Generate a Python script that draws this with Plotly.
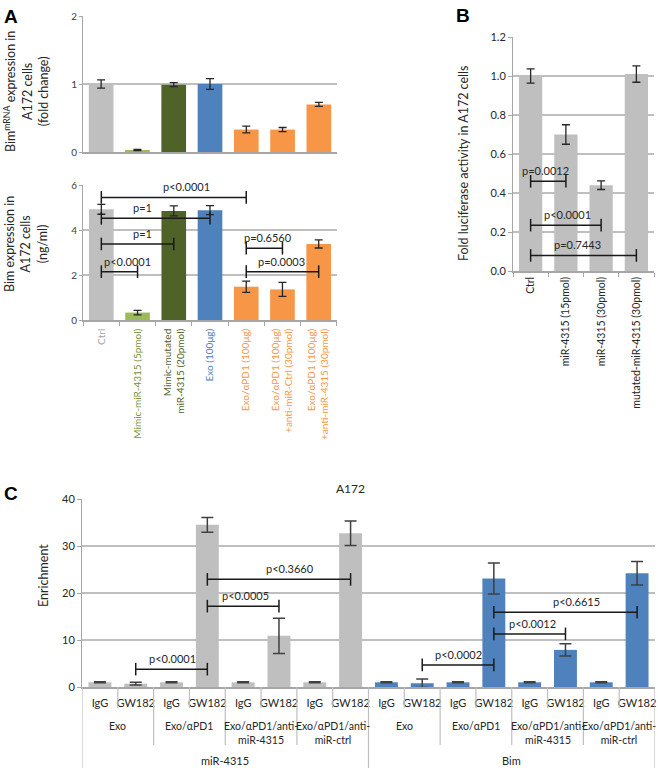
import plotly.graph_objects as go

W, H = 658, 768
FONT = "Lato"

# ---------------- Data ----------------
catsA = ["Ctrl", "Mimic-miR-4315 (5pmol)", "Mimic-mutated miR-4315 (20pmol)", "Exo (100μg)",
         "Exo/αPD1 (100μg)", "Exo/αPD1 (100μg) +anti-miR-Ctrl (30pmol)",
         "Exo/αPD1 (100μg) +anti-miR-4315 (30pmol)"]
tickA = ["Ctrl", "Mimic-miR-4315 (5pmol)", "Mimic-mutated<br>miR-4315 (20pmol)", "Exo (100μg)",
         "Exo/αPD1 (100μg)", "Exo/αPD1 (100μg)<br>+anti-miR-Ctrl (30pmol)",
         "Exo/αPD1 (100μg)<br>+anti-miR-4315 (30pmol)"]
colA = ["#BFBFBF", "#9BBB59", "#4F6228", "#4F81BD", "#F79646", "#F79646", "#F79646"]
txtcolA = ["#A6A6A6", "#77933C", "#4F6228", "#4F81BD", "#F79646", "#F79646", "#F79646"]

mrna = [1.00, 0.03, 0.99, 1.00, 0.33, 0.33, 0.70]
mrna_err = [0.06, 0.01, 0.03, 0.08, 0.05, 0.03, 0.03]

bim = [4.92, 0.33, 4.85, 4.88, 1.48, 1.36, 3.38]
bim_err = [0.22, 0.10, 0.22, 0.20, 0.25, 0.31, 0.18]

# brackets: (i, j, y, label, label_x)
bracketsA = [(0, 4, 5.45, "p<0.0001", 2.34), (0, 3, 4.52, "p=1", 1.15), (0, 2, 3.38, "p=1", 1.14),
             (0, 1, 2.15, "p<0.0001", 0.73), (4, 5, 3.19, "p=0.6560", 4.6), (4, 6, 2.15, "p=0.0003", 4.97)]

catsB = ["Ctrl", "miR-4315 (15pmol)", "miR-4315 (30pmol)", "mutated-miR-4315 (30pmol)"]
luc = [1.00, 0.70, 0.44, 1.01]
luc_err = [0.037, 0.05, 0.022, 0.042]
bracketsB = [(0, 1, 0.46, "p=0.0012", 0.42), (0, 2, 0.235, "p<0.0001", 1.06), (0, 3, 0.08, "p=0.7443", 1.34)]

ticksC = ["IgG", "GW182"] * 8
groupsC = ["Exo", "Exo/αPD1", "Exo/αPD1/anti-<br>miR-4315", "Exo/αPD1/anti-<br>miR-ctrl"] * 2
targetsC = ["miR-4315", "Bim"]
enrich = [1.0, 0.7, 1.0, 34.5, 1.0, 10.9, 1.0, 32.7,
          1.0, 0.8, 1.0, 23.1, 1.0, 7.9, 1.0, 24.2]
enrich_err = [0.1, 0.3, 0.1, 1.55, 0.1, 3.75, 0.1, 2.6,
              0.1, 0.9, 0.1, 3.3, 0.1, 1.3, 0.1, 2.5]
colC = ["#BFBFBF"] * 8 + ["#4F81BD"] * 8
bracketsC = [(1, 3, 3.8, "p<0.0001", 2.03), (3, 5, 17.2, "p<0.0005", 4.06), (3, 7, 22.9, "p<0.3660", 5.32),
             (9, 11, 4.7, "p<0.0002", 10.0), (11, 13, 11.3, "p<0.0012", 12.07), (11, 15, 15.9, "p<0.6615", 13.3)]


def px(x):
    return x / W


def py(y):
    return 1 - y / H


fig = go.Figure()
ERR = dict(type="data", color="#262626", thickness=1.3, width=4)
GRID = "#BFBFBF"
AXC = "#A6A6A6"
annotations = []
shapes = []


def add_brackets(brs, xa, ya, xvals):
    for (i, j, y, lab, lx) in brs:
        fig.add_trace(go.Scatter(x=[xvals[i], xvals[j]], y=[y, y], mode="lines+markers", xaxis=xa, yaxis=ya,
                                 line=dict(color="#1a1a1a", width=1.5),
                                 marker=dict(symbol="line-ns", size=9, line=dict(width=1.5, color="#1a1a1a")),
                                 showlegend=False, hoverinfo="skip"))
        annotations.append(dict(x=lx, y=y, xref=xa, yref=ya, text=lab, showarrow=False, xanchor="center",
                                yanchor="bottom", yshift=2, font=dict(size=11, color="#262626", family=FONT)))


# Panel A top
fig.add_trace(go.Bar(x=catsA, y=mrna, marker=dict(color=colA, line=dict(width=0)), width=0.68,
                     error_y=dict(array=mrna_err, **ERR), xaxis="x", yaxis="y", showlegend=False))
# Panel A bottom
fig.add_trace(go.Bar(x=catsA, y=bim, marker=dict(color=colA, line=dict(width=0)), width=0.68,
                     error_y=dict(array=bim_err, **ERR), xaxis="x2", yaxis="y2", showlegend=False))
add_brackets(bracketsA, "x2", "y2", catsA)
# Panel B
fig.add_trace(go.Bar(x=catsB, y=luc, marker=dict(color="#BFBFBF", line=dict(width=0)), width=0.66,
                     error_y=dict(array=luc_err, **ERR), xaxis="x3", yaxis="y3", showlegend=False))
add_brackets(bracketsB, "x3", "y3", catsB)
# Panel C
xC = list(range(16))
fig.add_trace(go.Bar(x=xC, y=enrich, marker=dict(color=colC, line=dict(width=0)), width=0.64,
                     error_y=dict(array=enrich_err, type="data", color="#404040", thickness=1.5, width=6),
                     xaxis="x4", yaxis="y4", showlegend=False))
add_brackets(bracketsC, "x4", "y4", xC)

tick_font = dict(family=FONT, size=10, color="#404040")
fig.update_layout(
    width=W, height=H, margin=dict(l=0, r=0, t=0, b=0, autoexpand=False),
    paper_bgcolor="white", plot_bgcolor="white",
    font=dict(family=FONT, color="#262626"),
    bargap=0.3,
    xaxis=dict(domain=[px(83), px(337)], anchor="y", type="category", showticklabels=False, automargin=False,
               showline=True, linecolor=AXC, linewidth=1.5, ticks="", showgrid=False, fixedrange=True),
    yaxis=dict(domain=[py(152), py(16)], anchor="x", range=[0, 2], dtick=1, showgrid=True, gridcolor=GRID,
               gridwidth=1.5, showline=True, linecolor=AXC, linewidth=1, ticks="outside", ticklen=3,
               tickcolor=AXC, tickfont=tick_font, zeroline=False, automargin=False),
    xaxis2=dict(domain=[px(83), px(337)], anchor="y2", type="category", tickvals=catsA,
                ticktext=[f"<span style='color:{c}'>{t}</span>" for t, c in zip(tickA, txtcolA)],
                tickangle=-90, tickfont=dict(family=FONT, size=10), showline=True, linecolor=AXC,
                linewidth=1.5, ticks="outside", tickson="boundaries", ticklen=4, tickcolor=AXC,
                ticklabelstandoff=3, showgrid=False, automargin=False),
    yaxis2=dict(domain=[py(320), py(185)], anchor="x2", range=[0, 6], dtick=2, showgrid=True, gridcolor=GRID,
                gridwidth=1.5, showline=True, linecolor=AXC, linewidth=1, ticks="outside", ticklen=3,
                tickcolor=AXC, tickfont=tick_font, zeroline=False, automargin=False),
    xaxis3=dict(domain=[px(513), px(654)], anchor="y3", type="category", tickangle=-90,
                tickfont=dict(family=FONT, size=10.5, color="#262626"), showline=True, linecolor=AXC,
                linewidth=1.5, ticks="outside", tickson="boundaries", ticklen=4, tickcolor=AXC, showgrid=False,
                automargin=False),
    yaxis3=dict(domain=[py(271), py(37)], anchor="x3", range=[0, 1.2], dtick=0.2, tickformat=".1f",
                showgrid=True, gridcolor=GRID, gridwidth=1.5, showline=True, linecolor=AXC, linewidth=1,
                ticks="outside", ticklen=4, tickcolor=AXC, automargin=False,
                tickfont=dict(family=FONT, size=11, color="#262626"), zeroline=False),
    xaxis4=dict(domain=[px(82), px(655)], anchor="y4", range=[-0.5, 15.5], tickvals=xC, ticktext=ticksC,
                tickfont=dict(family=FONT, size=11, color="#262626"), showline=True, linecolor=AXC,
                linewidth=1.5, ticks="", ticklabelstandoff=5, showgrid=False, zeroline=False, automargin=False),
    yaxis4=dict(domain=[py(687), py(499)], anchor="x4", range=[0, 40], dtick=10, showgrid=True,
                gridcolor=GRID, gridwidth=1.5, showline=True, linecolor=AXC, linewidth=1, ticks="outside",
                ticklen=4, tickcolor=AXC, tickfont=dict(family=FONT, size=11, color="#262626"), zeroline=False,
                automargin=False),
)

# Panel C separators and multi-level labels
for b in [k + 0.5 for k in range(-1, 16)]:
    if b in (-0.5, 7.5, 15.5):
        yb = 0
    elif b in (1.5, 3.5, 5.5, 9.5, 11.5, 13.5):
        yb = py(745)
    else:
        yb = py(708)
    shapes.append(dict(type="line", xref="x4", yref="paper", x0=b, x1=b, y0=py(687), y1=yb,
                       line=dict(color=GRID, width=1.2)))
for g, name in enumerate(groupsC):
    annotations.append(dict(x=2 * g + 0.5, y=py(718), xref="x4", yref="paper", text=name, showarrow=False,
                            xanchor="center", yanchor="top", font=dict(size=10.5, family=FONT, color="#262626")))
for t, name in enumerate(targetsC):
    annotations.append(dict(x=8 * t + 3.5, y=py(760), xref="x4", yref="paper", text=name, showarrow=False,
                            xanchor="center", yanchor="middle", font=dict(size=11, family=FONT, color="#262626")))
annotations.append(dict(x=px(350), y=py(488), xref="paper", yref="paper", text="A172", showarrow=False,
                        xanchor="center", yanchor="middle", font=dict(size=12, family=FONT, color="#262626")))

# axis titles
TITLE_FONT = dict(size=12.5, family=FONT, color="#262626")
for txt, x, y in [("Bim<sup>mRNA</sup> expression in<br>A172 cells<br>(fold change)", 26, 92),
                  ("Bim expression in<br>A172 cells<br>(ng/ml)", 26, 244),
                  ("Fold luciferase activity in A172 cells", 463, 163),
                  ("Enrichment", 43, 576)]:
    annotations.append(dict(x=px(x), y=py(y), xref="paper", yref="paper", textangle=-90, showarrow=False,
                            xanchor="center", yanchor="middle", text=txt, font=TITLE_FONT))
# panel letters
for lab, x, y in [("A", 2, 4), ("B", 454, 3), ("C", 2, 481)]:
    annotations.append(dict(x=px(x), y=py(y), xref="paper", yref="paper", text=f"<b>{lab}</b>",
                            showarrow=False, xanchor="left", yanchor="top",
                            font=dict(size=19, family="Liberation Sans", color="black")))

fig.update_layout(annotations=annotations, shapes=shapes)
fig.write_html("out.html", config={"displayModeBar": False},
               post_script="document.body.style.margin='0px';document.body.style.overflow='hidden';")
